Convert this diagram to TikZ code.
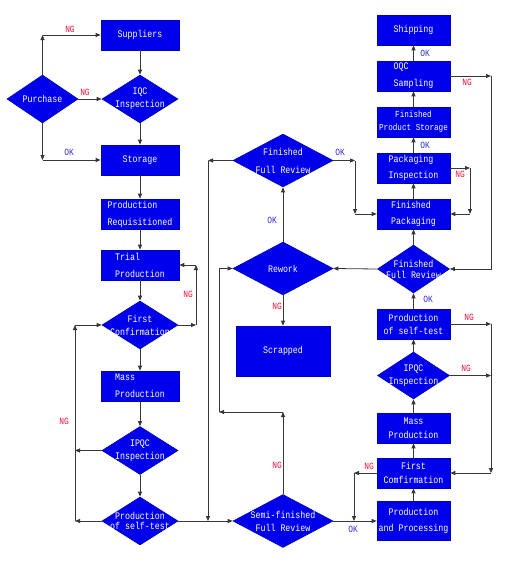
\documentclass[tikz,border=0pt]{standalone}
\usepackage{fontspec}
\usetikzlibrary{shapes.geometric,arrows.meta}
\newfontfamily\boxfont[FakeStretch=0.83]{Liberation Mono}
\newcommand\mytxt{\boxfont\fontsize{10}{13}\selectfont}
\newcommand\mylbl{\boxfont\fontsize{9.5}{11}\selectfont}
\definecolor{bfill}{RGB}{0,0,235}
\definecolor{okc}{RGB}{50,50,200}
\definecolor{ngc}{RGB}{235,20,60}
\definecolor{lnc}{RGB}{55,55,55}
\tikzset{
 box/.style={rectangle, fill=bfill, draw=bfill!80!black, line width=0.6pt, inner sep=0pt, text=white, font=\mytxt, minimum width=78pt, minimum height=30pt},
 rbox/.style={box, minimum width=73pt},
 dia/.style={diamond, fill=bfill, draw=bfill!80!black, line width=0.6pt, inner sep=0pt, minimum width=76pt, minimum height=48pt},
 bigdia/.style={dia, minimum width=100pt, minimum height=53pt},
 dtext/.style={text=white, font=\mytxt, inner sep=0pt, align=center},
 conn/.style={draw=lnc, line width=0.8pt, -{Triangle[length=5pt,width=4pt]}},
 okl/.style={text=okc, font=\mylbl, inner sep=0pt},
 ngl/.style={text=ngc, font=\mylbl, inner sep=0pt},
}
\begin{document}
\begin{tikzpicture}[x=1pt,y=-1pt]
\fill[white] (0,0) rectangle (508,570);
\useasboundingbox (0,0) rectangle (508,570);

% left column
\node[box] (sup) at (140,35) {Suppliers};
\node[dia, minimum width=71pt] (pur) at (42.5,99) {};
\node[dtext] (purt) at (pur) {Purchase};
\node[dia] (iqc) at (140,99) {};
\node[dtext] (iqct) at (iqc) {IQC\\Inspection};
\node[box] (sto) at (140,160) {Storage};
\node[box, align=left] (preq) at (140,214) {Production\\[4pt]Requisitioned};
\node[box, align=left] (tri) at (140,265) {Trial\\[4pt]Production};
\node[dia] (fc) at (140,325) {};
\node[dtext] (fct) at (fc) {First\\Confirmation};
\node[box, align=left] (mass) at (140,386) {Mass\\[4pt]Production};
\node[dia] (ipqc) at (140,450.5) {};
\node[dtext] (ipqct) at (ipqc) {IPQC\\Inspection};
\node[dia] (selft) at (140,521) {};
\node[dtext] (selftt) at (selft) {Production\\[-3pt]of self-test};

% middle column
\node[bigdia] (ffm) at (283,160.5) {};
\node[dtext] (ffmt) at (ffm) {Finished\\[5pt]Full Review};
\node[bigdia] (rew) at (283,268.5) {};
\node[dtext] (rewt) at (rew) {Rework};
\node[box, minimum width=94pt, minimum height=50pt] (scr) at (283,351) {Scrapped};
\node[bigdia] (semi) at (283,521) {};
\node[dtext] (semit) at (semi) {Semi-finished\\Full Review};

% right column
\node[rbox] (ship) at (413.5,30) {Shipping};
\node[rbox, align=left] (oqc) at (413.5,76) {OQC\\[4pt]Sampling};
\node[rbox, align=center, font=\boxfont\fontsize{9.2}{13}\selectfont] (fps) at (413.5,122) {Finished\\Product Storage};
\node[rbox, align=left] (pin) at (413.5,168) {Packaging\\[3pt]Inspection};
\node[rbox, align=left] (fpk) at (413.5,214) {Finished\\[3pt]Packaging};
\node[dia, minimum width=72pt] (ffr) at (413.5,269) {};
\node[dtext] (ffrt) at (ffr) {Finished\\[-2pt]Full Review};
\node[rbox, align=center] (sfr) at (413.5,324) {Production\\of self-test};
\node[dia, minimum width=72pt, minimum height=47pt] (ipr) at (413.5,375.5) {};
\node[dtext] (iprt) at (ipr) {IPQC\\Inspection};
\node[rbox, align=center] (mar) at (413.5,428) {Mass\\[1pt]Production};
\node[rbox, align=center] (fcr) at (413.5,473) {First\\[1pt]Comfirmation};
\node[rbox, minimum height=39pt, align=center] (ppr) at (413.5,521) {Production\\[3pt]and Processing};

% coordinates
\coordinate (c1) at (42.5,35);
\coordinate (c2) at (42.5,160);
\coordinate (c3) at (196,325);
\coordinate (c4) at (196,265);
\coordinate (c5) at (75,450.5);
\coordinate (c6) at (75,521);
\coordinate (c7) at (75,325);
\coordinate (c8) at (208,521);
\coordinate (c9) at (208,160.5);
\coordinate (c10) at (283,412);
\coordinate (c11) at (219,412);
\coordinate (c12) at (219,268.5);
\coordinate (c13) at (355,160.5);
\coordinate (c14) at (355,214);
\coordinate (c15) at (491,76);
\coordinate (c16) at (491,269);
\coordinate (c17) at (470,168);
\coordinate (c18) at (470,214);
\coordinate (c19) at (491,324);
\coordinate (c20) at (491,375.5);
\coordinate (c21) at (491,473);
\coordinate (c22) at (354,473);
\coordinate (c23) at (354,521);

% left connectors
\draw[conn] (pur.north) -- (c1);
\draw[conn] (c1) -- (sup.west);
\draw[conn] (pur.south) -- (c2);
\draw[conn] (c2) -- (sto.west);
\draw[conn] (pur.east) -- (iqc.west);
\draw[conn] (sup.south) -- (iqc.north);
\draw[conn] (iqc.south) -- (sto.north);
\draw[conn] (sto.south) -- (preq.north);
\draw[conn] (preq.south) -- (tri.north);
\draw[conn] (tri.south) -- (fc.north);
\draw[conn] (fc.east) -- (c3);
\draw[conn] (c3) -- (c4);
\draw[conn] (c4) -- (tri.east);
\draw[conn] (fc.south) -- (mass.north);
\draw[conn] (mass.south) -- (ipqc.north);
\draw[conn] (ipqc.south) -- (selft.north);
\draw[conn] (ipqc.west) -- (c5);
\draw[conn] (selft.west) -- (c6);
\draw[conn] (c6) -- (c7);
\draw[conn] (c7) -- (fc.west);
\draw[conn] (selft.east) -- (semi.west);

% middle connectors
\draw[conn] (ffm.west) -- (c9);
\draw[conn] (c9) -- (c8);
\draw[conn] (semi.north) -- (c10);
\draw[conn] (c10) -- (c11);
\draw[conn] (c11) -- (c12) -- (rew.west);
\draw[conn] (rew.north) -- (ffm.south);
\draw[conn] (rew.south) -- (scr.north);
\draw[conn] (ffm.east) -- (c13);
\draw[conn] (c13) -- (c14);
\draw[conn] (c14) -- (fpk.west);
\draw[conn] (ffr.west) -- (rew.east);
\draw[conn] (semi.east) -- (ppr.west);

% right connectors
\draw[conn] (ppr.north) -- (fcr.south);
\draw[conn] (fcr.north) -- (mar.south);
\draw[conn] (mar.north) -- (ipr.south);
\draw[conn] (ipr.north) -- (sfr.south);
\draw[conn] (sfr.north) -- (ffr.south);
\draw[conn] (ffr.north) -- (fpk.south);
\draw[conn] (fpk.north) -- (pin.south);
\draw[conn] (pin.north) -- (fps.south);
\draw[conn] (fps.north) -- (oqc.south);
\draw[conn] (oqc.north) -- (ship.south);
\draw[conn] (oqc.east) -- (c15);
\draw[conn] (c15) -- (c16) -- (ffr.east);
\draw[conn] (pin.east) -- (c17);
\draw[conn] (c17) -- (c18);
\draw[conn] (c18) -- (fpk.east);
\draw[conn] (sfr.east) -- (c19);
\draw[conn] (ipr.east) -- (c20);
\draw[conn] (c19) -- (c21);
\draw[conn] (c21) -- (fcr.east);
\draw[conn] (fcr.west) -- (c22);
\draw[conn] (c22) -- (c23);

% labels
\node[ngl] (l1) at (70,29) {NG};
\node[ngl] (l2) at (85,92) {NG};
\node[okl] (l3) at (69,152) {OK};
\node[ngl] (l4) at (188,294) {NG};
\node[ngl] (l5) at (64,421) {NG};
\node[okl] (l6) at (272,220) {OK};
\node[ngl] (l7) at (277,306) {NG};
\node[ngl] (l8) at (277,465) {NG};
\node[okl] (l9) at (340,152) {OK};
\node[okl] (l10) at (353,529) {OK};
\node[ngl] (l11) at (369,466) {NG};
\node[okl] (l12) at (425,53) {OK};
\node[ngl] (l13) at (467,82) {NG};
\node[okl] (l14) at (425,145) {OK};
\node[ngl] (l15) at (460,174) {NG};
\node[okl] (l16) at (428,299) {OK};
\node[ngl] (l17) at (469,317) {NG};
\node[ngl] (l18) at (466,368) {NG};
\end{tikzpicture}
\end{document}
